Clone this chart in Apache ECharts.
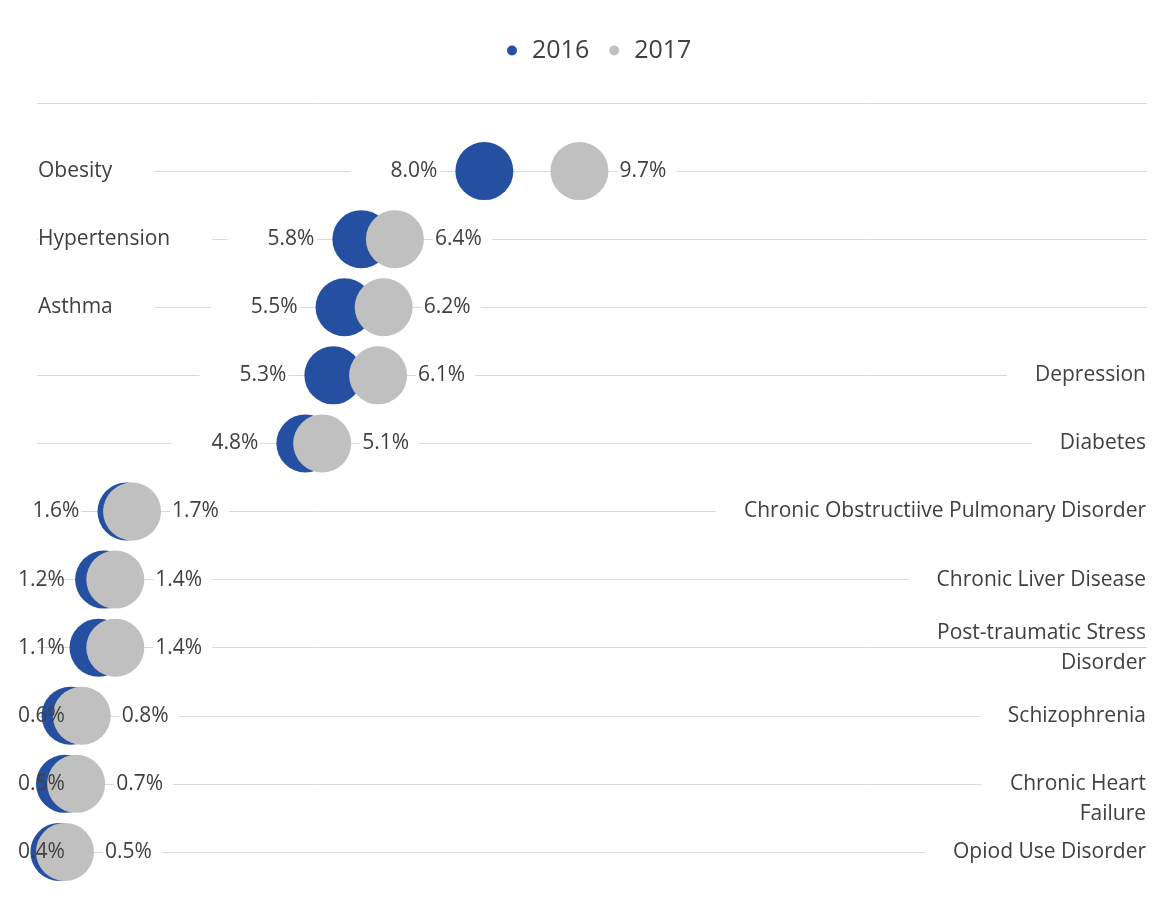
<!DOCTYPE html>
<html>
<head>
<meta charset="utf-8">
<script src="https://cdn.jsdelivr.net/npm/echarts@6/dist/echarts.min.js"></script>
<style>html,body{margin:0;padding:0;background:#fff}#c{width:1169px;height:920px}</style>
</head>
<body>
<div id="c"></div>
<script>
var categories = ['Obesity','Hypertension','Asthma','Depression','Diabetes','Chronic Obstructiive Pulmonary Disorder','Chronic Liver Disease','Post-traumatic Stress\nDisorder','Schizophrenia','Chronic Heart\nFailure','Opiod Use Disorder'];
var values2016 = [8.0,5.8,5.5,5.3,4.8,1.6,1.2,1.1,0.6,0.5,0.4];
var values2017 = [9.7,6.4,6.2,6.1,5.1,1.7,1.4,1.4,0.8,0.7,0.5];
var seriesNames = ['2016','2017'];

// layout helpers (not data)
var leftLabelCount = 3;      // first rows labelled at the left edge
var pushDownRows = [10];     // row labels drawn a little below their line
var clampBelow = 1.5;        // 2016 labels of smaller values sit at the left edge, over the circles

var FONT = '"Open Sans", sans-serif';
var TXT = '#404040';
var FS = 21;
var chart = echarts.init(document.getElementById('c'));

function pts(vals){ return vals.map(function(v,i){ return [v, i+1]; }); }
function fmtPct(p){ return p.value[0].toFixed(1) + '%'; }
function rowLabel(v){
  var s = categories[v-1];
  return (pushDownRows.indexOf(v) >= 0 ? '\n' : '') + '{a|' + s + '}';
}

var labelItems2016 = values2016.map(function(v, i){
  return { value: [v, i+1], label: { backgroundColor: v >= clampBelow ? '#fff' : 'transparent' } };
});

chart.setOption({
  backgroundColor: '#fff',
  animation: false,
  legend: {
    top: 33, left: 502, icon: 'circle', itemWidth: 30, itemHeight: 10, itemGap: 20,
    textStyle: { fontFamily: FONT, fontSize: 25, color: TXT },
    data: seriesNames
  },
  grid: { left: 37, right: 22, top: 103, bottom: -5 },
  xAxis: { type: 'value', min: 0, max: 19.85, show: false, splitLine: { show: false } },
  yAxis: [
    { type: 'value', min: 0, max: 12, interval: 1, inverse: true, position: 'left',
      axisLine: { show: false }, axisTick: { show: false },
      splitLine: { show: true, lineStyle: { color: '#d9d9d9', width: 1 } },
      axisLabel: { inside: true, margin: 1, align: 'left', fontFamily: FONT, fontSize: FS, color: TXT, lineHeight: 30,
        rich: { a: { fontFamily: FONT, fontSize: FS, color: TXT, lineHeight: 30, backgroundColor: '#fff', padding: [0, 42, 0, 0] } },
        formatter: function(v){ return (v >= 1 && v <= leftLabelCount) ? rowLabel(v) : ''; } } },
    { type: 'value', min: 0, max: 12, interval: 1, inverse: true, position: 'right',
      axisLine: { show: false }, axisTick: { show: false }, splitLine: { show: false },
      axisLabel: { inside: true, margin: 1, align: 'right', fontFamily: FONT, fontSize: FS, color: TXT, lineHeight: 30,
        rich: { a: { fontFamily: FONT, fontSize: FS, color: TXT, lineHeight: 30, backgroundColor: '#fff', padding: [0, 0, 0, 28] } },
        formatter: function(v){ return (v > leftLabelCount && v <= categories.length) ? rowLabel(v) : ''; } } }
  ],
  series: [
    { name: '2016', type: 'scatter', yAxisIndex: 0, symbol: 'circle', symbolSize: 58,
      itemStyle: { color: '#2550a2', opacity: 1 }, label: { show: false },
      data: pts(values2016), z: 2 },
    { name: '2017', type: 'scatter', yAxisIndex: 0, symbol: 'circle', symbolSize: 58,
      itemStyle: { color: '#c0c0c0', opacity: 1 },
      label: { show: true, position: 'right', distance: 9, formatter: fmtPct, fontFamily: FONT, fontSize: FS, color: TXT,
        backgroundColor: '#fff', padding: [0, 10, 0, 2] },
      data: pts(values2017), z: 3 },
    // 2016 value labels drawn above every circle, as in the reference
    { name: '2016 labels', type: 'scatter', yAxisIndex: 0, symbol: 'circle', symbolSize: 58, silent: true,
      itemStyle: { color: '#2550a2', opacity: 0 },
      label: { show: true, opacity: 1, position: 'left', distance: 16, formatter: fmtPct, fontFamily: FONT, fontSize: FS, color: TXT,
        padding: [0, 2, 0, 40] },
      labelLayout: function(params){
        var r = params.labelRect;
        if (r.x + 40 < 18) { return { x: 18 - 40, y: r.y + r.height / 2, align: 'left', verticalAlign: 'middle' }; }
        return {};
      },
      data: labelItems2016, z: 4 }
  ]
});
</script>
</body>
</html>
